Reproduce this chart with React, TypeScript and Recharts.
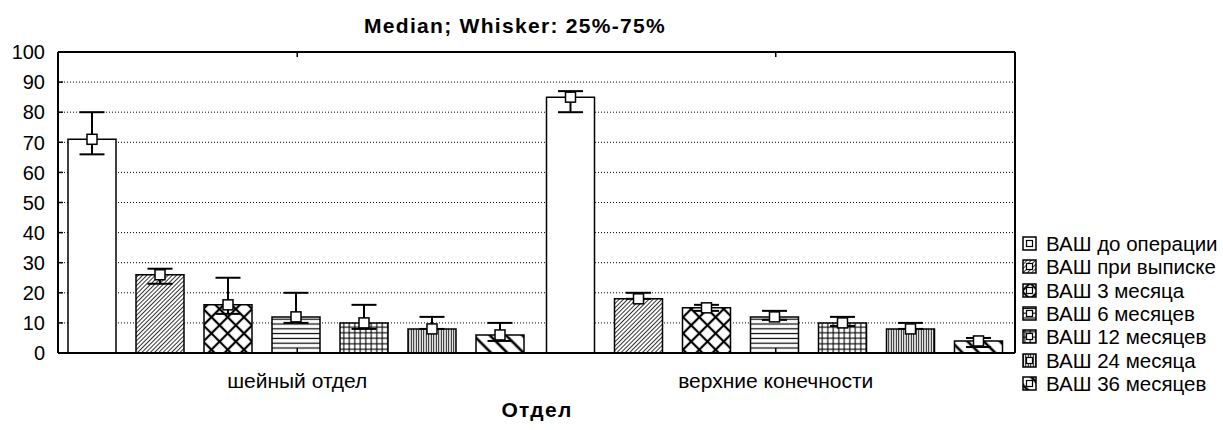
import React from 'react';
import { BarChart, Bar, XAxis, YAxis, CartesianGrid, ErrorBar, LabelList, ReferenceArea } from 'recharts';

const FONT = "'Liberation Sans', Arial, sans-serif";

const categories = ['шейный отдел', 'верхние конечности'];
const seriesNames = [
  'ВАШ до операции',
  'ВАШ при выписке',
  'ВАШ 3 месяца',
  'ВАШ 6 месяцев',
  'ВАШ 12 месяцев',
  'ВАШ 24 месяца',
  'ВАШ 36 месяцев',
];

// medians, one value per category
const medBefore = [71, 85];
const medDischarge = [26, 18];
const med3m = [16, 15];
const med6m = [12, 12];
const med12m = [10, 10];
const med24m = [8, 8];
const med36m = [6, 4];

// 25% quartile
const q1Before = [66, 80];
const q1Discharge = [23, 18];
const q1_3m = [13, 14];
const q1_6m = [10, 11];
const q1_12m = [8, 9];
const q1_24m = [8, 8];
const q1_36m = [4, 2];

// 75% quartile
const q3Before = [80, 87];
const q3Discharge = [28, 20];
const q3_3m = [25, 16];
const q3_6m = [20, 14];
const q3_12m = [16, 12];
const q3_24m = [12, 10];
const q3_36m = [10, 5];

const yTicks = [0, 10, 20, 30, 40, 50, 60, 70, 80, 90, 100];

const medians = [medBefore, medDischarge, med3m, med6m, med12m, med24m, med36m];
const lowers = [q1Before, q1Discharge, q1_3m, q1_6m, q1_12m, q1_24m, q1_36m];
const uppers = [q3Before, q3Discharge, q3_3m, q3_6m, q3_12m, q3_24m, q3_36m];

const data = categories.map((cat, ci) => {
  const row: Record<string, any> = { cat };
  medians.forEach((m, si) => {
    row[`s${si}`] = m[ci];
    row[`e${si}`] = [m[ci] - lowers[si][ci], uppers[si][ci] - m[ci]];
  });
  return row;
});

// hatch fills, shared by bars and legend icons
function Patterns() {
  return (
    <svg width={0} height={0} style={{ position: 'absolute' }}>
      <defs>
        <pattern id="p0" patternUnits="userSpaceOnUse" width={4} height={4}>
          <rect width={4} height={4} fill="#fff" />
        </pattern>
        <pattern id="p1" patternUnits="userSpaceOnUse" width={3} height={3} patternTransform="rotate(45)">
          <rect width={3} height={3} fill="#fff" />
          <line x1={1.5} y1={0} x2={1.5} y2={3} stroke="#000" strokeWidth={0.8} />
        </pattern>
        <pattern id="p2" patternUnits="userSpaceOnUse" width={11.5} height={11.5} patternTransform="rotate(45)">
          <rect width={11.5} height={11.5} fill="#fff" />
          <line x1={5.75} y1={0} x2={5.75} y2={11.5} stroke="#000" strokeWidth={2.2} />
          <line x1={0} y1={5.75} x2={11.5} y2={5.75} stroke="#000" strokeWidth={2.2} />
        </pattern>
        <pattern id="p3" patternUnits="userSpaceOnUse" width={4} height={4.8}>
          <rect width={4} height={4.8} fill="#fff" />
          <line x1={0} y1={2.4} x2={4} y2={2.4} stroke="#000" strokeWidth={1.2} />
        </pattern>
        <pattern id="p4" patternUnits="userSpaceOnUse" width={5.5} height={5.5}>
          <rect width={5.5} height={5.5} fill="#fff" />
          <line x1={0} y1={2.75} x2={5.5} y2={2.75} stroke="#000" strokeWidth={1.1} />
          <line x1={2.75} y1={0} x2={2.75} y2={5.5} stroke="#000" strokeWidth={1.1} />
        </pattern>
        <pattern id="p5" patternUnits="userSpaceOnUse" width={2.5} height={4}>
          <rect width={2.5} height={4} fill="#fff" />
          <line x1={1.25} y1={0} x2={1.25} y2={4} stroke="#000" strokeWidth={1} />
        </pattern>
        <pattern id="p6" patternUnits="userSpaceOnUse" width={11.5} height={11.5} patternTransform="rotate(-45)">
          <rect width={11.5} height={11.5} fill="#fff" />
          <line x1={5.75} y1={0} x2={5.75} y2={11.5} stroke="#000" strokeWidth={2.6} />
        </pattern>
      </defs>
    </svg>
  );
}

// white square marking the median
const MedianMarker = (props: any) => {
  const { x, y, width } = props;
  const cx = Number(x) + Number(width) / 2;
  return <rect x={cx - 5} y={Number(y) - 5} width={10} height={10} fill="#fff" stroke="#000" strokeWidth={1.5} />;
};

// ticks point into the plot, so each tick draws its own short line
const LEFT_GAP = 13;
const BOTTOM_GAP = 20;

const LeftTick = (props: any) => {
  const { x, y, payload } = props;
  return (
    <g>
      <line x1={x + LEFT_GAP} y1={y} x2={x + LEFT_GAP + 5} y2={y} stroke="#000" strokeWidth={1.5} />
      <text x={x} y={y} dy="0.36em" textAnchor="end" fontSize={20} fontFamily={FONT} fill="#000">
        {payload.value}
      </text>
    </g>
  );
};

const RightTick = (props: any) => {
  const { x, y } = props;
  return <line x1={x} y1={y} x2={x - 5} y2={y} stroke="#000" strokeWidth={1.5} />;
};

const BottomTick = (props: any) => {
  const { x, y, payload } = props;
  return (
    <g>
      <line x1={x} y1={y - BOTTOM_GAP} x2={x} y2={y - BOTTOM_GAP - 5} stroke="#000" strokeWidth={1.5} />
      <text x={x} y={y} dy="0.71em" textAnchor="middle" fontSize={21} fontFamily={FONT} fill="#000">
        {payload.value}
      </text>
    </g>
  );
};

const TopTick = (props: any) => {
  const { x, y } = props;
  return <line x1={x} y1={y} x2={x} y2={y + 5} stroke="#000" strokeWidth={1.5} />;
};

const axisLine = { stroke: '#000', strokeWidth: 2 };

export default function App() {
  return (
    <div style={{ position: 'absolute', left: 0, top: 0, width: 1223, height: 430, background: '#fff', fontFamily: FONT }}>
      <Patterns />
      <div
        style={{
          position: 'absolute', left: 215, top: 15, width: 600, textAlign: 'center',
          fontSize: 21, lineHeight: '21px', fontWeight: 'bold', letterSpacing: 1.3,
        }}
      >
        Median; Whisker: 25%-75%
      </div>
      <BarChart
        width={1223}
        height={430}
        data={data}
        margin={{ top: 51, right: 207, left: 0, bottom: 0 }}
        barCategoryGap={10}
        barGap={20}
      >
        <CartesianGrid vertical={false} stroke="#000" strokeDasharray="1 2" strokeWidth={1} />
        <XAxis
          dataKey="cat"
          height={77}
          interval={0}
          axisLine={axisLine}
          tickLine={false}
          tickSize={0}
          tickMargin={BOTTOM_GAP}
          tick={<BottomTick />}
        />
        <XAxis
          xAxisId="top"
          dataKey="cat"
          orientation="top"
          height={1}
          interval={0}
          axisLine={axisLine}
          tickLine={false}
          tickSize={0}
          tickMargin={0}
          tick={<TopTick />}
        />
        <YAxis
          domain={[0, 100]}
          ticks={yTicks}
          interval={0}
          width={58}
          axisLine={axisLine}
          tickLine={false}
          tickSize={0}
          tickMargin={LEFT_GAP}
          tick={<LeftTick />}
        />
        <YAxis
          yAxisId="right"
          orientation="right"
          domain={[0, 100]}
          ticks={yTicks}
          interval={0}
          width={1}
          axisLine={axisLine}
          tickLine={false}
          tickSize={0}
          tickMargin={0}
          tick={<RightTick />}
        />
        {seriesNames.map((name, i) => (
          <Bar
            key={name}
            dataKey={`s${i}`}
            name={name}
            fill={`url(#p${i})`}
            stroke="#000"
            strokeWidth={1.5}
            isAnimationActive={false}
          >
            <ErrorBar dataKey={`e${i}`} direction="y" width={12.5} stroke="#000" strokeWidth={2} />
            <LabelList dataKey={`s${i}`} content={MedianMarker} />
          </Bar>
        ))}
        <ReferenceArea fill="none" stroke="#000" strokeWidth={2} ifOverflow="visible" />
      </BarChart>
      <div
        style={{
          position: 'absolute', left: 437, top: 399, width: 200, textAlign: 'center',
          fontSize: 21, lineHeight: '21px', fontWeight: 'bold', letterSpacing: 1.3,
        }}
      >
        Отдел
      </div>
      <div style={{ position: 'absolute', left: 1022, top: 232 }}>
        {seriesNames.map((name, i) => (
          <div key={name} style={{ display: 'flex', alignItems: 'center', height: 23.3, whiteSpace: 'nowrap' }}>
            <svg width={15} height={15} style={{ flex: 'none' }}>
              <rect x={1} y={1} width={13} height={13} fill={`url(#p${i})`} stroke="#000" strokeWidth={1.5} />
              <rect x={4.5} y={4.5} width={6} height={6} fill="#fff" stroke="#000" strokeWidth={1.2} />
            </svg>
            <span style={{ marginLeft: 9, fontSize: 20.5, lineHeight: '23px' }}>{name}</span>
          </div>
        ))}
      </div>
    </div>
  );
}
